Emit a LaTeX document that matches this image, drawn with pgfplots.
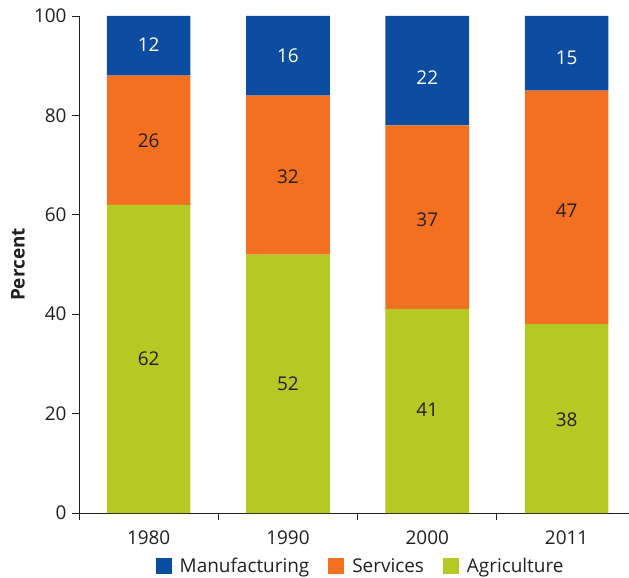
\documentclass[border=0pt]{standalone}
\usepackage{pgfplots}
\pgfplotsset{compat=1.18}
\usepackage{fontspec}
\setmainfont{Open Sans}
\definecolor{manu}{RGB}{12,77,162}
\definecolor{serv}{RGB}{243,112,33}
\definecolor{agri}{RGB}{181,201,37}
\definecolor{txt}{RGB}{35,31,32}
\newcommand{\fs}{\fontsize{19}{22}\selectfont}
\begin{document}
\begin{tikzpicture}
\path[use as bounding box] (-79bp,-65bp) rectangle (550bp,513bp);
\pgfplotsset{
  base/.style={
    scale only axis, width=550bp, height=497bp,
    at={(0,0)}, anchor=south west,
    xmin=-0.5, xmax=3.448, ymin=0, ymax=100,
    /pgf/number format/assume math mode=true,
    tick label style={font=\fs, text=txt},
  }
}
\begin{axis}[base,
  ybar stacked, bar width=0.6,
  axis x line*=bottom, axis y line*=left,
  axis line style={txt, line width=0.9bp},
  tick align=outside, major tick length=7bp,
  tick style={txt, line width=0.9bp},
  ytick={0,20,40,60,80,100},
  yticklabel style={xshift=-2bp},
  xtick={-0.5,0.5,1.5,2.5}, xticklabels={},
  extra x ticks={0,1,2,3},
  extra x tick labels={1980,1990,2000,2011},
  extra x tick style={major tick length=0pt},
  xticklabel style={yshift=-14bp},
  ylabel={Percent},
  ylabel style={at={(axis description cs:-0.111,0.5)}, anchor=center,
    font=\fontsize{19}{22}\selectfont\bfseries, text=txt},
  legend columns=3,
  reverse legend,
  legend style={at={(0.512,-0.107)}, anchor=center, draw=none, fill=none,
    font=\fs, text=txt,
    /tikz/every even column/.append style={column sep=17bp}},
  legend image code/.code={\fill[#1,draw=none] (0bp,-8bp) rectangle (16bp,8bp); \path (0bp,0bp) -- (22bp,0bp);},
]
\addplot[fill=agri, draw=none] coordinates {(0,62) (1,52) (2,41) (3,38)};
\addlegendentry{Agriculture}
\addplot[fill=serv, draw=none] coordinates {(0,26) (1,32) (2,37) (3,47)};
\addlegendentry{Services}
\addplot[fill=manu, draw=none] coordinates {(0,12) (1,16) (2,22) (3,15)};
\addlegendentry{Manufacturing}
\end{axis}
\begin{axis}[base, hide axis,
  nodes near coords, nodes near coords align=center,
  point meta=explicit symbolic,
  every node near coord/.append style={font=\fs}]
\addplot[draw=none, mark=none, every node near coord/.append style={text=txt}]
  coordinates {(0,31)[62] (1,26)[52] (2,20.7)[41] (3,18.7)[38]};
\addplot[draw=none, mark=none, every node near coord/.append style={text=txt}]
  coordinates {(0,75)[26] (1,67.6)[32] (2,59)[37] (3,60.8)[47]};
\addplot[draw=none, mark=none, every node near coord/.append style={text=white}]
  coordinates {(0,94.2)[12] (1,92)[16] (2,87.5)[22] (3,91.6)[15]};
\end{axis}
\end{tikzpicture}
\end{document}
